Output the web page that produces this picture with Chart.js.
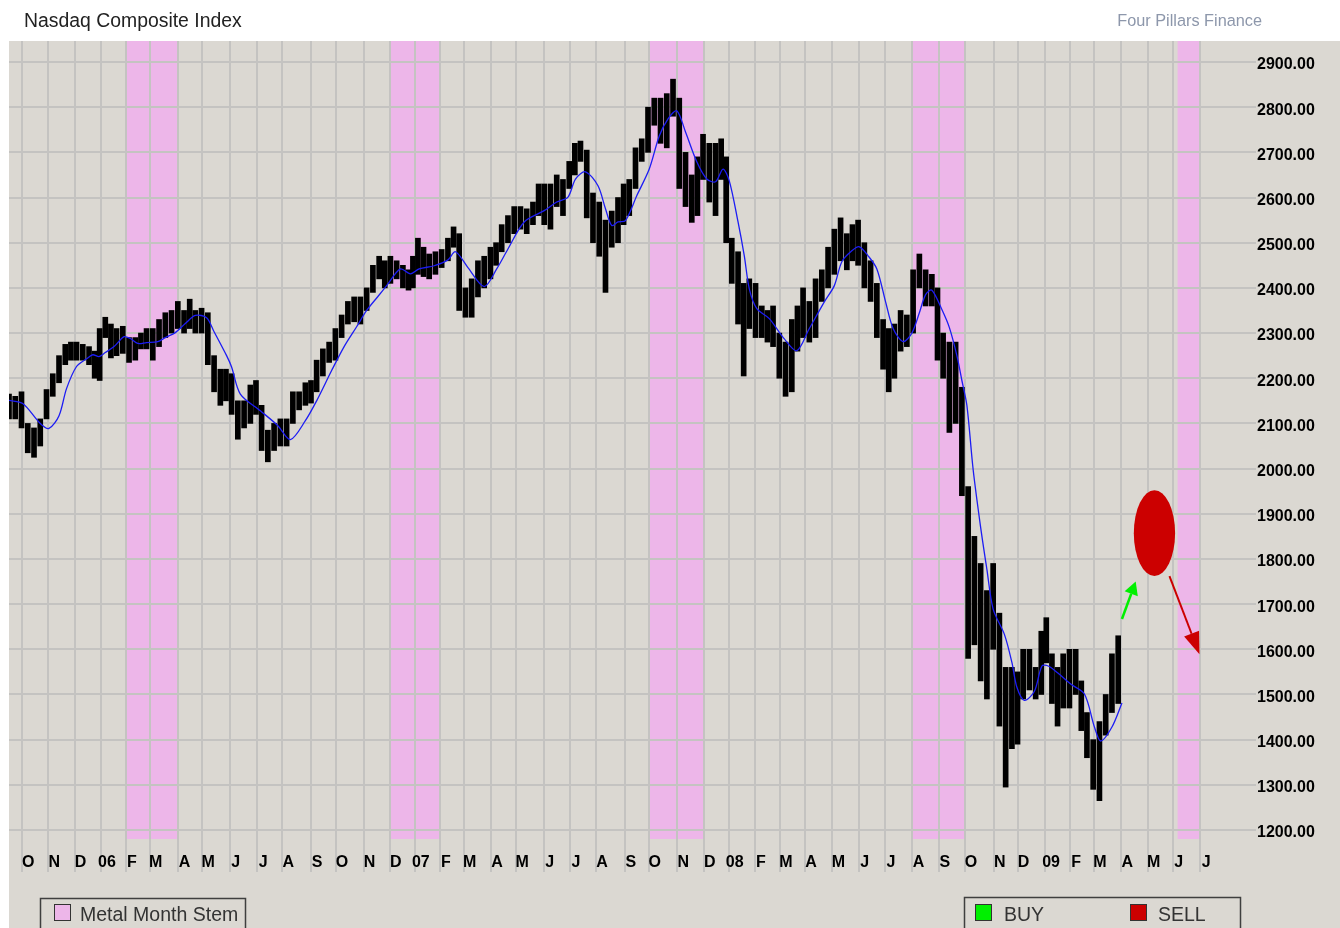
<!DOCTYPE html>
<html lang="en">
<head>
<meta charset="utf-8">
<title>Nasdaq Composite Index</title>
<script src="https://cdn.jsdelivr.net/npm/chart.js@4.4.1/dist/chart.umd.min.js"></script>
<style>
  html, body { margin: 0; padding: 0; background: #ffffff; }
  #chart { display: block; }
</style>
</head>
<body>
<canvas id="chart" width="1340" height="928"></canvas>
<script>
// market closures, so the x axis counts trading sessions like the original
const HOLIDAYS = [
  '2005-11-24', '2005-12-26', '2006-01-02', '2006-01-16', '2006-02-20', '2006-04-14',
  '2006-05-29', '2006-07-04', '2006-09-04', '2006-11-23', '2006-12-25', '2007-01-01',
  '2007-01-02', '2007-01-15', '2007-02-19', '2007-04-06', '2007-05-28', '2007-07-04',
  '2007-09-03', '2007-11-22', '2007-12-25', '2008-01-01', '2008-01-21', '2008-02-18',
  '2008-03-21', '2008-05-26', '2008-07-04', '2008-09-01', '2008-11-27', '2008-12-25',
  '2009-01-01', '2009-01-19', '2009-02-16', '2009-04-10', '2009-05-25', '2009-07-03'
];

// weekly low / high of the index, one entry per 7-day stretch as the bars sit
// on the original (each stretch starts on a Wednesday, first one 2005-09-14)
const FIRST_WEEK = '2005-09-14';
const weekLow = [
  // 2005
  2110, 2110, 2090, 2035, 2025, 2050, 2110, 2160, 2190, 2230, 2240, 2240, 2240, 2230, 2200,
  // 2006
  2195, 2290, 2245, 2250, 2255, 2235, 2240, 2265, 2265, 2240, 2270, 2290, 2300,
  2310, 2300, 2310, 2300, 2300, 2230, 2170, 2140, 2150, 2120, 2065, 2090, 2100,
  2120, 2040, 2015, 2040, 2050, 2050, 2100, 2130, 2140, 2145, 2170, 2205, 2235,
  2240, 2290, 2320, 2325, 2320, 2350, 2390, 2420, 2400, 2410, 2420, 2400, 2395,
  // 2007
  2400, 2430, 2425, 2420, 2430, 2445, 2460, 2490, 2350, 2335, 2335, 2380, 2400,
  2420, 2450, 2480, 2500, 2520, 2530, 2520, 2540, 2560, 2540, 2530, 2580, 2560,
  2620, 2650, 2680, 2555, 2500, 2470, 2390, 2490, 2500, 2540, 2560, 2620, 2680,
  2700, 2760, 2720, 2710, 2780, 2620, 2580, 2545, 2560, 2640, 2590, 2560, 2640, 2500,
  // 2008
  2410, 2320, 2205, 2310, 2290, 2290, 2280, 2270, 2200, 2160, 2170, 2260, 2290,
  2280, 2290, 2370, 2400, 2430, 2460, 2440, 2460, 2450, 2400, 2370, 2290, 2220,
  2170, 2200, 2260, 2270, 2300, 2400, 2360, 2360, 2240, 2200, 2080, 2100, 1940,
  1580, 1610, 1530, 1490, 1600, 1430, 1295, 1380, 1390, 1490, 1510, 1490, 1500,
  // 2009
  1570, 1480, 1430, 1470, 1470, 1500, 1420, 1360, 1290, 1265, 1410, 1460, 1480
];
const weekHigh = [
  // 2005
  2165, 2160, 2170, 2100, 2090, 2110, 2175, 2210, 2250, 2275, 2280, 2280, 2275, 2270, 2260,
  // 2006
  2310, 2335, 2320, 2310, 2315, 2290, 2290, 2300, 2310, 2310, 2330, 2345, 2350,
  2370, 2350, 2375, 2350, 2355, 2345, 2250, 2220, 2220, 2210, 2150, 2150, 2185,
  2195, 2140, 2085, 2100, 2110, 2110, 2170, 2170, 2190, 2195, 2240, 2265, 2280,
  2310, 2340, 2370, 2380, 2380, 2400, 2450, 2470, 2460, 2470, 2460, 2450, 2440,
  // 2007
  2470, 2510, 2490, 2475, 2480, 2485, 2510, 2535, 2520, 2400, 2420, 2460, 2470,
  2490, 2500, 2540, 2560, 2580, 2580, 2575, 2590, 2630, 2630, 2630, 2650, 2640,
  2680, 2720, 2725, 2705, 2610, 2590, 2550, 2570, 2600, 2630, 2640, 2710, 2730,
  2800, 2820, 2820, 2830, 2862, 2820, 2700, 2650, 2690, 2740, 2720, 2720, 2730, 2690,
  // 2008
  2510, 2480, 2410, 2420, 2410, 2360, 2350, 2360, 2300, 2280, 2330, 2360, 2400,
  2370, 2420, 2440, 2490, 2530, 2555, 2520, 2540, 2550, 2500, 2460, 2410, 2330,
  2310, 2320, 2350, 2340, 2440, 2475, 2440, 2430, 2400, 2300, 2280, 2280, 2180,
  1960, 1850, 1790, 1730, 1790, 1680, 1560, 1560, 1550, 1600, 1600, 1560, 1640,
  // 2009
  1670, 1590, 1560, 1590, 1600, 1600, 1530, 1460, 1400, 1440, 1500, 1590, 1630
];

// blue moving-average line
const maDates = [
  '2005-09-16', '2005-10-03', '2005-10-21', '2005-11-01', '2005-11-11', '2005-11-21',
  '2005-12-02', '2005-12-14', '2005-12-21', '2005-12-29', '2006-01-06', '2006-01-18',
  '2006-01-30', '2006-02-06', '2006-02-14', '2006-02-24', '2006-03-09', '2006-03-17',
  '2006-03-29', '2006-04-10', '2006-04-21', '2006-05-04', '2006-05-12', '2006-05-26',
  '2006-06-02', '2006-06-13', '2006-07-06', '2006-07-26', '2006-08-09', '2006-08-25',
  '2006-09-08', '2006-09-26', '2006-10-10', '2006-10-24', '2006-11-03', '2006-11-16',
  '2006-11-28', '2006-12-13', '2006-12-26', '2007-01-08', '2007-01-25', '2007-02-09',
  '2007-02-20', '2007-03-06', '2007-03-23', '2007-04-09', '2007-04-20', '2007-05-09',
  '2007-06-01', '2007-06-15', '2007-06-28', '2007-07-09', '2007-07-19', '2007-08-02',
  '2007-08-10', '2007-08-17', '2007-08-24', '2007-09-04', '2007-09-17', '2007-10-01',
  '2007-10-11', '2007-10-22', '2007-10-31', '2007-11-09', '2007-11-23', '2007-12-05',
  '2007-12-14', '2007-12-24', '2008-01-02', '2008-01-11', '2008-01-18', '2008-01-25',
  '2008-02-04', '2008-02-19', '2008-03-06', '2008-03-20', '2008-04-04', '2008-04-22',
  '2008-05-02', '2008-05-12', '2008-05-22', '2008-06-02', '2008-06-11', '2008-06-20',
  '2008-07-01', '2008-07-10', '2008-07-22', '2008-07-31', '2008-08-08', '2008-08-15',
  '2008-08-22', '2008-09-04', '2008-09-12', '2008-09-22', '2008-09-26', '2008-10-02',
  '2008-10-09', '2008-10-17', '2008-10-24', '2008-10-31', '2008-11-13', '2008-11-21',
  '2008-11-28', '2008-12-08', '2008-12-18', '2008-12-29', '2009-01-06', '2009-01-16',
  '2009-02-02', '2009-02-18', '2009-03-02', '2009-03-09', '2009-03-20', '2009-04-01'
];
const maValues = [
  2151, 2144, 2100, 2089, 2117, 2177,
  2226, 2243, 2252, 2248, 2257, 2270,
  2292, 2288, 2277, 2279, 2281, 2290,
  2301, 2321, 2339, 2334, 2303, 2250,
  2225, 2165, 2128, 2095, 2064, 2106,
  2150, 2217, 2270, 2314, 2350, 2381,
  2405, 2442, 2431, 2442, 2449, 2462,
  2480, 2445, 2403, 2442, 2486, 2546,
  2571, 2590, 2601, 2641, 2657, 2626,
  2575, 2538, 2546, 2549, 2604, 2663,
  2736, 2774, 2792, 2745, 2679, 2641,
  2635, 2663, 2637, 2546, 2471, 2398,
  2354, 2332, 2287, 2261, 2310, 2369,
  2405, 2458, 2482, 2491, 2471, 2442,
  2369, 2310, 2281, 2300, 2345, 2385,
  2395, 2352, 2312, 2250, 2195, 2140,
  1998, 1870, 1777, 1689, 1633, 1571,
  1516, 1487, 1507, 1563, 1563, 1547,
  1523, 1501, 1428, 1397, 1428, 1481
];

// "Metal Month Stem" shaded periods [from, to)
const metalMonths = [
  ['2006-02-01', '2006-04-01'],
  ['2006-12-01', '2007-02-01'],
  ['2007-10-01', '2007-12-01'],
  ['2008-08-01', '2008-10-01'],
  ['2009-06-05', '2009-07-01']
];

const yTicks = [1200, 1300, 1400, 1500, 1600, 1700, 1800, 1900, 2000, 2100, 2200, 2300,
  2400, 2500, 2600, 2700, 2800, 2900];
// one label per month starting October 2005
const monthLabels = [
  'O', 'N', 'D',
  '06', 'F', 'M', 'A', 'M', 'J', 'J', 'A', 'S', 'O', 'N', 'D',
  '07', 'F', 'M', 'A', 'M', 'J', 'J', 'A', 'S', 'O', 'N', 'D',
  '08', 'F', 'M', 'A', 'M', 'J', 'J', 'A', 'S', 'O', 'N', 'D',
  '09', 'F', 'M', 'A', 'M', 'J', 'J'
];

// hand-drawn signal marks on the original
const buyArrow = { from: ['2009-04-01', 1667], to: ['2009-04-17', 1750] };
const sellArrow = { from: ['2009-05-27', 1762], to: ['2009-06-30', 1589] };
const sellMark = { date: '2009-05-08', price: 1857, halfSessions: 16.5, halfPoints: 95 };

const BG = '#dbd8d2';
const PINK = '#edb6e9';
const GRID = '#c4c3c1';
const GREEN = '#00f000';
const RED = '#cc0000';
const FONT = '"Liberation Sans", Arial, sans-serif';

// ---- trading session numbers (0 = first session of Oct 2005) ----
const DAY = 864e5;
const iso = t => new Date(t).toISOString().slice(0, 10);
const holidaySet = new Set(HOLIDAYS);
const isOpen = s => {
  const wd = new Date(s + 'T00:00:00Z').getUTCDay();
  return wd > 0 && wd < 6 && !holidaySet.has(s);
};
const session = {};
(function () {
  const all = [];
  for (let t = Date.UTC(2005, 8, 1); t <= Date.UTC(2009, 11, 31); t += DAY) all.push(iso(t));
  const num = {};
  let n = 0;
  all.forEach(s => { if (isOpen(s)) num[s] = n++; });
  const base = num['2005-10-03'];
  let next = n;
  for (let i = all.length - 1; i >= 0; i--) {
    if (num[all[i]] !== undefined) next = num[all[i]];
    session[all[i]] = next - base;
  }
})();

// centre of each weekly bar = mean session number of the open days in its 7 days
const weekX = weekLow.map((_, i) => {
  const t0 = Date.parse(FIRST_WEEK + 'T00:00:00Z') + i * 7 * DAY;
  const s = [];
  for (let k = 0; k < 7; k++) {
    const d = iso(t0 + k * DAY);
    if (isOpen(d)) s.push(session[d]);
  }
  return s.reduce((a, b) => a + b, 0) / s.length;
});
const monthTickX = monthLabels.map((_, i) => session[iso(Date.UTC(2005, 9 + i, 1))] - 0.5);

function arrow(ctx, x0, y0, x1, y1, color, width, headLen, headHalf) {
  const ang = Math.atan2(y1 - y0, x1 - x0);
  const bx = x1 - headLen * Math.cos(ang), by = y1 - headLen * Math.sin(ang);
  ctx.strokeStyle = color;
  ctx.lineWidth = width;
  ctx.beginPath();
  ctx.moveTo(x0, y0);
  ctx.lineTo(bx, by);
  ctx.stroke();
  ctx.fillStyle = color;
  ctx.beginPath();
  ctx.moveTo(x1, y1);
  ctx.lineTo(bx + headHalf * Math.sin(ang), by - headHalf * Math.cos(ang));
  ctx.lineTo(bx - headHalf * Math.sin(ang), by + headHalf * Math.cos(ang));
  ctx.closePath();
  ctx.fill();
}

function legendBox(ctx, x, y, w, h) {
  ctx.strokeStyle = '#3f3f3f';
  ctx.lineWidth = 1.5;
  ctx.strokeRect(x, y, w, h);
}
function swatch(ctx, x, y, color) {
  ctx.fillStyle = color;
  ctx.fillRect(x, y, 17, 17);
  ctx.strokeStyle = '#333';
  ctx.lineWidth = 1;
  ctx.strokeRect(x + 0.5, y + 0.5, 16, 16);
}

const framePlugin = {
  id: 'frame',
  beforeDraw(chart) {
    const { ctx, chartArea: a, scales: { x } } = chart;
    ctx.save();
    ctx.fillStyle = '#ffffff';
    ctx.fillRect(0, 0, chart.width, chart.height);
    ctx.fillStyle = BG;
    ctx.fillRect(a.left, a.top, chart.width - a.left, chart.height - a.top);
    ctx.fillStyle = PINK;
    metalMonths.forEach(([s, e]) => {
      const x0 = x.getPixelForValue(session[s] - 0.5);
      const x1 = x.getPixelForValue(session[e] - 0.5);
      ctx.fillRect(x0, a.top, x1 - x0, a.bottom - a.top);
    });
    ctx.restore();
  },
  afterDraw(chart) {
    const { ctx } = chart;
    ctx.save();
    ctx.textBaseline = 'alphabetic';
    ctx.font = '19.4px ' + FONT;
    ctx.fillStyle = '#222';
    ctx.textAlign = 'left';
    ctx.fillText('Nasdaq Composite Index', 24, 27);
    ctx.font = '16.3px ' + FONT;
    ctx.fillStyle = '#8d97ab';
    ctx.textAlign = 'right';
    ctx.fillText('Four Pillars Finance', 1262, 26);

    ctx.textAlign = 'left';
    ctx.font = '19.5px ' + FONT;
    legendBox(ctx, 40.5, 898.5, 205, 40);
    swatch(ctx, 54, 904, PINK);
    ctx.fillStyle = '#333';
    ctx.fillText('Metal Month Stem', 80, 921);

    legendBox(ctx, 964.5, 897.5, 276, 40);
    swatch(ctx, 975, 904, GREEN);
    ctx.fillStyle = '#333';
    ctx.fillText('BUY', 1004, 921);
    swatch(ctx, 1130, 904, RED);
    ctx.fillStyle = '#333';
    ctx.fillText('SELL', 1158, 921);
    ctx.restore();
  }
};

const notesPlugin = {
  id: 'notes',
  afterDatasetsDraw(chart) {
    const { ctx, scales: { x, y } } = chart;
    const px = d => x.getPixelForValue(session[d]);
    ctx.save();
    const cx = px(sellMark.date), cy = y.getPixelForValue(sellMark.price);
    const rx = Math.abs(x.getPixelForValue(session[sellMark.date] + sellMark.halfSessions) - cx);
    const ry = Math.abs(y.getPixelForValue(sellMark.price + sellMark.halfPoints) - cy);
    ctx.fillStyle = RED;
    ctx.beginPath();
    ctx.ellipse(cx, cy, rx, ry, 0, 0, Math.PI * 2);
    ctx.fill();
    arrow(ctx, px(buyArrow.from[0]), y.getPixelForValue(buyArrow.from[1]),
      px(buyArrow.to[0]), y.getPixelForValue(buyArrow.to[1]), GREEN, 2.5, 13, 7);
    arrow(ctx, px(sellArrow.from[0]), y.getPixelForValue(sellArrow.from[1]),
      px(sellArrow.to[0]), y.getPixelForValue(sellArrow.to[1]), RED, 2, 22, 8);
    ctx.restore();
  }
};

new Chart(document.getElementById('chart'), {
  type: 'bar',
  data: {
    datasets: [
      {
        type: 'line',
        label: 'Moving average',
        data: maDates.map((d, i) => ({ x: session[d], y: maValues[i] })),
        borderColor: '#1c1cf4',
        borderWidth: 1.3,
        pointRadius: 0,
        tension: 0.3,
        order: 0
      },
      {
        type: 'bar',
        label: 'Nasdaq Composite',
        data: weekX.map((xv, i) => ({ x: xv, y: [weekLow[i], weekHigh[i]] })),
        backgroundColor: '#000000',
        barThickness: 5,
        order: 1
      }
    ]
  },
  options: {
    responsive: false,
    animation: false,
    devicePixelRatio: 1,
    layout: { padding: { left: 9, top: 41, right: 0, bottom: 0 } },
    plugins: {
      legend: { display: false },
      tooltip: { enabled: false }
    },
    scales: {
      x: {
        type: 'linear',
        min: -11,
        max: 983,
        offset: false,
        afterBuildTicks: s => { s.ticks = monthTickX.map(v => ({ value: v })); },
        afterFit: s => { s.height = 89; },
        grid: { offset: false, color: GRID, lineWidth: 2, tickLength: 33, tickColor: GRID },
        border: { display: false },
        ticks: {
          autoSkip: false,
          maxRotation: 0,
          minRotation: 0,
          padding: -19,
          labelOffset: 6,
          color: '#000',
          font: { family: FONT, size: 16, weight: 'bold' },
          callback: (v, i) => monthLabels[i]
        }
      },
      y: {
        position: 'right',
        min: 1180.1,
        max: 2946.5,
        afterBuildTicks: s => { s.ticks = yTicks.map(v => ({ value: v })); },
        afterFit: s => { s.width = 88; },
        grid: { color: GRID, lineWidth: 2, tickLength: 4, tickColor: GRID },
        border: { display: false },
        ticks: {
          padding: 1,
          labelOffset: 3,
          color: '#000',
          font: { family: FONT, size: 16, weight: 'bold' },
          callback: v => v.toFixed(2)
        }
      }
    }
  },
  plugins: [framePlugin, notesPlugin]
});
</script>
</body>
</html>
